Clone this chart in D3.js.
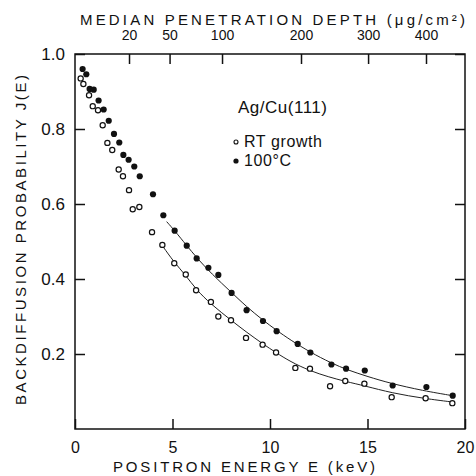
<!DOCTYPE html>
<html>
<head>
<meta charset="utf-8">
<script src="https://cdn.jsdelivr.net/npm/d3@7"></script>
<style>
  body { margin: 0; background: white; }
  text { font-family: "Liberation Sans", "DejaVu Sans", sans-serif; fill: #111; }
</style>
</head>
<body>
<div id="container"></div>
<script>
// 100°C growth (filled dots)
let energyHot = [0.39, 0.58, 0.75, 0.96, 1.21, 1.47, 1.73, 2.0, 2.27, 2.48, 2.75, 3.04, 3.32, 4.0, 4.53, 5.11,
  5.73, 6.24, 6.84, 7.35, 8.03, 8.80, 9.64, 10.34, 11.42, 12.07, 13.15, 13.9, 14.86, 16.29, 18.02, 19.37];
let jHot = [0.96, 0.946, 0.907, 0.905, 0.876, 0.852, 0.822, 0.787, 0.764, 0.731, 0.718, 0.70, 0.674, 0.626, 0.570, 0.529,
  0.489, 0.455, 0.430, 0.411, 0.363, 0.317, 0.288, 0.261, 0.227, 0.204, 0.172, 0.161, 0.156, 0.116, 0.112, 0.089];

// RT growth (open dots)
let energyRT = [0.29, 0.43, 0.72, 0.91, 1.18, 1.42, 1.66, 1.91, 2.24, 2.46, 2.77, 2.96, 3.30, 3.95, 4.48, 5.09,
  5.68, 6.21, 6.97, 7.35, 8.0, 8.77, 9.62, 10.31, 11.3, 12.05, 13.08, 13.86, 14.84, 16.24, 17.98, 19.35];
let jRT = [0.935, 0.92, 0.89, 0.861, 0.850, 0.81, 0.763, 0.744, 0.692, 0.674, 0.637, 0.586, 0.592, 0.525, 0.491, 0.442,
  0.412, 0.370, 0.339, 0.30, 0.290, 0.243, 0.225, 0.204, 0.163, 0.161, 0.114, 0.128, 0.121, 0.085, 0.082, 0.069];

// fitted curves
let fitHotE = [4.7, 5.11, 5.73, 6.24, 7.0, 8.03, 8.8, 9.64, 10.34, 11.03, 12.05, 13.13, 14.0, 15.0, 16.15, 17.86, 19.35];
let fitHotJ = [0.553, 0.529, 0.489, 0.457, 0.414, 0.364, 0.326, 0.290, 0.263, 0.238, 0.205, 0.176, 0.157, 0.140, 0.122, 0.102, 0.089];
let fitRTE = [4.45, 5.09, 5.68, 6.21, 6.97, 8.03, 8.8, 9.66, 10.3, 11.03, 12.05, 13.0, 13.85, 14.87, 16.24, 17.95, 19.35];
let fitRTJ = [0.491, 0.444, 0.410, 0.372, 0.333, 0.289, 0.258, 0.226, 0.204, 0.180, 0.155, 0.139, 0.127, 0.115, 0.096, 0.081, 0.072];

// ticks
let energyTicks = [0, 5, 10, 15, 20];
let jTicks = [0.2, 0.4, 0.6, 0.8, 1.0];
let jTickLabels = ["0.2", "0.4", "0.6", "0.8", "1.0"];
let depthLabels = ["20", "50", "100", "200", "300", "400"];
let depthTickEnergy = [2.77, 4.85, 7.54, 11.59, 15.03, 18.0];

let w = 476;
let h = 476;
let viz = d3.select("#container")
  .append("svg")
    .attr("width", w)
    .attr("height", h)
;

let xScale = d3.scaleLinear().domain([0, 20]).range([75, 465]);
let yScale = d3.scaleLinear().domain([0, 1]).range([429, 54]);

// frame
viz.append("rect")
    .attr("x", xScale(0))
    .attr("y", yScale(1))
    .attr("width", xScale(20) - xScale(0))
    .attr("height", yScale(0) - yScale(1))
    .attr("fill", "none")
    .attr("stroke", "#111")
    .attr("stroke-width", 1.5)
;

// bottom axis
let xAxis = d3.axisBottom(xScale)
    .tickValues(energyTicks)
    .tickSizeInner(-10)
    .tickSizeOuter(0)
    .tickPadding(16)
    .tickFormat(d3.format("d"));
let xAxisGroup = viz.append("g")
    .attr("class", "xaxisgroup")
    .attr("transform", "translate(0," + yScale(0) + ")")
    .call(xAxis);

// top axis (median penetration depth)
let topAxis = d3.axisTop(xScale)
    .tickValues(depthTickEnergy)
    .tickSizeInner(-10)
    .tickSizeOuter(0)
    .tickPadding(14)
    .tickFormat(function(d, i){ return depthLabels[i]; });
let topAxisGroup = viz.append("g")
    .attr("class", "topaxisgroup")
    .attr("transform", "translate(0," + yScale(1) + ")")
    .call(topAxis);

// left axis
let yAxis = d3.axisLeft(yScale)
    .tickValues(jTicks)
    .tickSizeInner(-10)
    .tickSizeOuter(0)
    .tickPadding(10)
    .tickFormat(function(d, i){ return jTickLabels[i]; });
let yAxisGroup = viz.append("g")
    .attr("class", "yaxisgroup")
    .attr("transform", "translate(" + xScale(0) + ",0)")
    .call(yAxis);

// right axis, ticks only
let rightAxis = d3.axisRight(yScale)
    .tickValues(jTicks)
    .tickSizeInner(-10)
    .tickSizeOuter(0)
    .tickFormat("");
viz.append("g")
    .attr("transform", "translate(" + xScale(20) + ",0)")
    .call(rightAxis);

viz.selectAll(".domain").remove();
viz.selectAll(".tick line").attr("stroke", "#111").attr("stroke-width", 1.5);
xAxisGroup.selectAll("text").style("font-size", "16px").attr("dy", "0.5em");
yAxisGroup.selectAll("text").style("font-size", "17px");
topAxisGroup.selectAll("text").style("font-size", "14px");
viz.selectAll(".tick text").attr("fill", "#111").style("font-family", "'Liberation Sans', sans-serif");

// axis titles
viz.append("text")
    .attr("x", 80)
    .attr("y", 25)
    .attr("textLength", 385)
    .attr("lengthAdjust", "spacing")
    .style("font-size", "15px")
    .text("MEDIAN PENETRATION DEPTH (μg/cm²)");

viz.append("text")
    .attr("x", 113)
    .attr("y", 472)
    .attr("textLength", 262)
    .attr("lengthAdjust", "spacing")
    .style("font-size", "15px")
    .text("POSITRON ENERGY E (keV)");

viz.append("text")
    .attr("transform", "translate(26,405) rotate(-90)")
    .attr("textLength", 330)
    .attr("lengthAdjust", "spacing")
    .style("font-size", "15px")
    .text("BACKDIFFUSION PROBABILITY J(E)");

// fitted lines
let lineMaker = d3.line()
    .x(function(d){ return xScale(d[0]); })
    .y(function(d){ return yScale(d[1]); })
    .curve(d3.curveBasis);

viz.append("path")
    .datum(d3.zip(fitHotE, fitHotJ))
    .attr("d", lineMaker)
    .attr("fill", "none")
    .attr("stroke", "#222")
    .attr("stroke-width", 1);

viz.append("path")
    .datum(d3.zip(fitRTE, fitRTJ))
    .attr("d", lineMaker)
    .attr("fill", "none")
    .attr("stroke", "#222")
    .attr("stroke-width", 1);

// data points
viz.selectAll(".rt")
  .data(d3.zip(energyRT, jRT))
  .enter()
  .append("circle")
    .attr("class", "rt")
    .attr("cx", function(d){ return xScale(d[0]); })
    .attr("cy", function(d){ return yScale(d[1]); })
    .attr("r", 2.6)
    .attr("fill", "white")
    .attr("stroke", "#111")
    .attr("stroke-width", 1.2);

viz.selectAll(".hot")
  .data(d3.zip(energyHot, jHot))
  .enter()
  .append("circle")
    .attr("class", "hot")
    .attr("cx", function(d){ return xScale(d[0]); })
    .attr("cy", function(d){ return yScale(d[1]); })
    .attr("r", 3.1)
    .attr("fill", "#111");

// legend
viz.append("text")
    .attr("x", 238)
    .attr("y", 113)
    .attr("textLength", 89)
    .attr("lengthAdjust", "spacing")
    .style("font-size", "17px")
    .text("Ag/Cu(111)");

viz.append("circle")
    .attr("cx", 236).attr("cy", 142).attr("r", 2)
    .attr("fill", "white").attr("stroke", "#111").attr("stroke-width", 1.1);
viz.append("text")
    .attr("x", 244)
    .attr("y", 147)
    .style("font-size", "16px")
    .style("letter-spacing", "0.6px")
    .text("RT growth");

viz.append("circle")
    .attr("cx", 236).attr("cy", 161).attr("r", 2.6)
    .attr("fill", "#111");
viz.append("text")
    .attr("x", 244)
    .attr("y", 166)
    .style("font-size", "16px")
    .style("letter-spacing", "0.6px")
    .text("100°C");
</script>
</body>
</html>
